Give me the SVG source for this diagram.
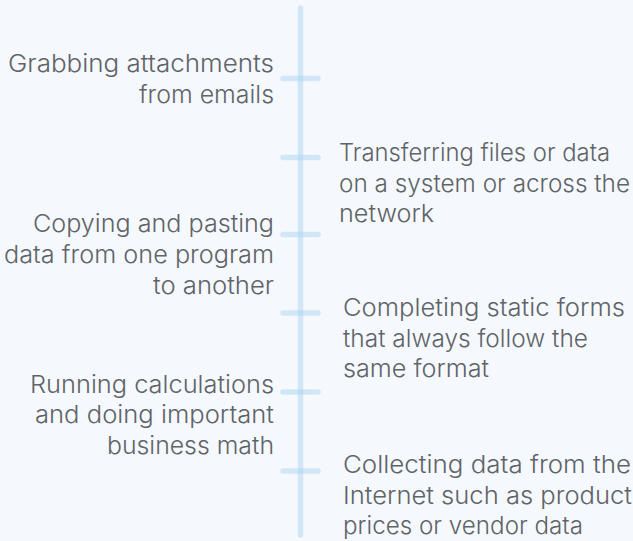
<svg xmlns="http://www.w3.org/2000/svg" width="633" height="541" viewBox="0 0 633 541">
<style>
.t{font-family:Inter,"Noto Sans",sans-serif;font-size:24px;font-weight:300;fill:#606367}
.l{text-anchor:end}
.ln{stroke:#a6d0f0;stroke-opacity:0.45;stroke-width:5.5;stroke-linecap:round;fill:none}
</style>
<rect width="633" height="541" fill="#f5f9fd"/>
<g id="connectors">
<line class="ln" x1="300.5" y1="8" x2="300.5" y2="535"/>
<line class="ln" x1="283" y1="78.5" x2="318" y2="78.5"/>
<line class="ln" x1="283" y1="157.5" x2="318" y2="157.5"/>
<line class="ln" x1="283" y1="234.5" x2="318" y2="234.5"/>
<line class="ln" x1="283" y1="313" x2="318" y2="313"/>
<line class="ln" x1="283" y1="392" x2="318" y2="392"/>
<line class="ln" x1="283" y1="471" x2="318" y2="471"/>
</g>
<g id="n1"><text class="t l" x="274" y="72" textLength="266" lengthAdjust="spacingAndGlyphs">Grabbing attachments</text><text class="t l" x="274" y="103" textLength="135" lengthAdjust="spacingAndGlyphs">from emails</text></g>
<g id="n2"><text class="t" x="339" y="161" textLength="271" lengthAdjust="spacingAndGlyphs">Transferring files or data</text><text class="t" x="339" y="192" textLength="291" lengthAdjust="spacingAndGlyphs">on a system or across the</text><text class="t" x="339" y="222" textLength="95" lengthAdjust="spacingAndGlyphs">network</text></g>
<g id="n3"><text class="t l" x="274" y="232" textLength="241" lengthAdjust="spacingAndGlyphs">Copying and pasting</text><text class="t l" x="274" y="263" textLength="270" lengthAdjust="spacingAndGlyphs">data from one program</text><text class="t l" x="274" y="294" textLength="121" lengthAdjust="spacingAndGlyphs">to another</text></g>
<g id="n4"><text class="t" x="343" y="316" textLength="282" lengthAdjust="spacingAndGlyphs">Completing static forms</text><text class="t" x="343" y="347" textLength="245" lengthAdjust="spacingAndGlyphs">that always follow the</text><text class="t" x="343" y="377" textLength="146" lengthAdjust="spacingAndGlyphs">same format</text></g>
<g id="n5"><text class="t l" x="274" y="393" textLength="244" lengthAdjust="spacingAndGlyphs">Running calculations</text><text class="t l" x="274" y="423" textLength="239" lengthAdjust="spacingAndGlyphs">and doing important</text><text class="t l" x="274" y="454" textLength="167" lengthAdjust="spacingAndGlyphs">business math</text></g>
<g id="n6"><text class="t" x="343" y="473" textLength="288" lengthAdjust="spacingAndGlyphs">Collecting data from the</text><text class="t" x="343" y="504" textLength="289" lengthAdjust="spacingAndGlyphs">Internet such as product</text><text class="t" x="343" y="534" textLength="240" lengthAdjust="spacingAndGlyphs">prices or vendor data</text></g>
</svg>
